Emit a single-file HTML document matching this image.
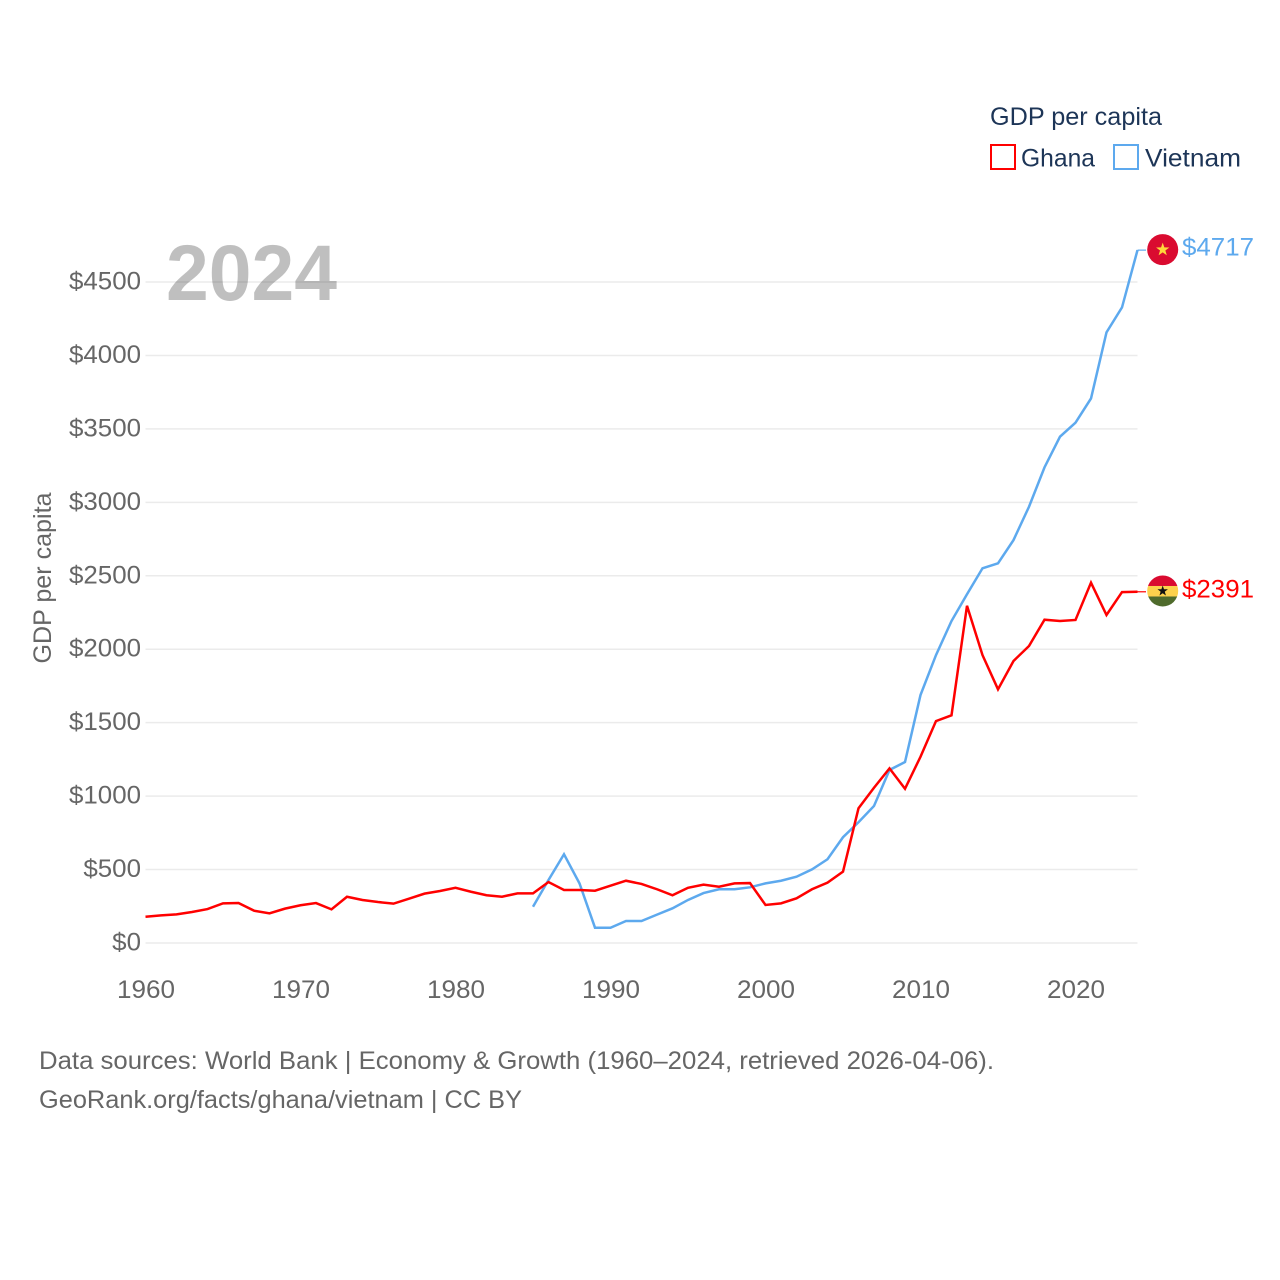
<!DOCTYPE html>
<html lang="en">
<head>
<meta charset="utf-8">
<title>GDP per capita: Ghana and Vietnam</title>
<style>
html,body{margin:0;padding:0;background:#fff;width:1280px;height:1280px;overflow:hidden}
svg{display:block}
text{font-family:"Liberation Sans",sans-serif}
</style>
</head>
<body>
<svg id="chart" width="1280" height="1280" viewBox="0 0 1280 1280" xmlns="http://www.w3.org/2000/svg">
  <g id="grid"></g>
  <g id="xticks"></g>
  <g id="yticks"></g>
  <text x="51" y="578" transform="rotate(-90 51 578)" text-anchor="middle" font-size="25" fill="#666" textLength="171" lengthAdjust="spacingAndGlyphs">GDP per capita</text>
  <g id="series"></g>
  <text x="166" y="300" font-size="79" font-weight="700" fill="#000" fill-opacity="0.25" textLength="171" lengthAdjust="spacingAndGlyphs">2024</text>

  <text x="990" y="125" font-size="25" fill="#1d3557" textLength="172" lengthAdjust="spacingAndGlyphs">GDP per capita</text>
  <g>
    <rect x="991" y="145" width="24" height="24" fill="#fff" stroke="#ff0000" stroke-width="2"></rect>
    <text x="1021" y="166.5" font-size="25" fill="#1d3557" textLength="74" lengthAdjust="spacingAndGlyphs">Ghana</text>
  </g>
  <g>
    <rect x="1114" y="145" width="24" height="24" fill="#fff" stroke="#5da9ee" stroke-width="2"></rect>
    <text x="1145" y="166.5" font-size="25" fill="#1d3557" textLength="96" lengthAdjust="spacingAndGlyphs">Vietnam</text>
  </g>

  <defs>
    <clipPath id="ghana-clip"><circle id="ghana-clip-circle" cx="1162.7" cy="591" r="15.5"></circle></clipPath>
  </defs>
  <g id="end-markers"></g>

  <text x="39" y="1069" font-size="25" fill="#666" textLength="955" lengthAdjust="spacingAndGlyphs">Data sources: World Bank | Economy &amp; Growth (1960–2024, retrieved 2026-04-06).</text>
  <text x="39" y="1108" font-size="25" fill="#666" textLength="483" lengthAdjust="spacingAndGlyphs">GeoRank.org/facts/ghana/vietnam | CC BY</text>
</svg>
<script>
const startYear = 1960;
const xTickYears = [1960, 1970, 1980, 1990, 2000, 2010, 2020];
const yTickValues = [0, 500, 1000, 1500, 2000, 2500, 3000, 3500, 4000, 4500];
const ghanaYears = [1960,1961,1962,1963,1964,1965,1966,1967,1968,1969,1970,1971,1972,1973,1974,1975,1976,1977,1978,1979,1980,1981,1982,1983,1984,1985,1986,1987,1988,1989,1990,1991,1992,1993,1994,1995,1996,1997,1998,1999,2000,2001,2002,2003,2004,2005,2006,2007,2008,2009,2010,2011,2012,2013,2014,2015,2016,2017,2018,2019,2020,2021,2022,2023,2024];
const ghanaValues = [179,188,195,211,231,270,272,220,202,234,257,272,229,315,293,279,268,302,336,354,376,349,325,315,338,338,415,361,361,356,390,424,402,366,325,376,397,383,406,408,259,270,304,366,411,486,917,1057,1189,1050,1268,1511,1550,2296,1960,1727,1920,2022,2201,2192,2199,2453,2233,2389,2391];
const vietnamYears = [1985,1986,1987,1988,1989,1990,1991,1992,1993,1994,1995,1996,1997,1998,1999,2000,2001,2002,2003,2004,2005,2006,2007,2008,2009,2010,2011,2012,2013,2014,2015,2016,2017,2018,2019,2020,2021,2022,2023,2024];
const vietnamValues = [247,429,604,406,104,104,150,150,193,236,293,340,366,366,379,406,424,451,501,570,720,822,933,1178,1232,1688,1960,2192,2374,2551,2585,2743,2970,3238,3447,3542,3707,4157,4327,4717];

const NS = 'http://www.w3.org/2000/svg';
const x = year => 145.5 + (year - startYear) * 15.5;
const y = value => 943 - value * 661 / 4500;
const xEnd = x(2024);

function make(tag, attrs, parent, txt) {
  const el = document.createElementNS(NS, tag);
  for (const k in attrs) el.setAttribute(k, attrs[k]);
  if (txt !== undefined) el.textContent = txt;
  parent.appendChild(el);
  return el;
}

const gridG = document.getElementById('grid');
const yG = document.getElementById('yticks');
yTickValues.forEach(v => {
  const line = make('line', {x1: x(startYear), x2: xEnd, y1: y(v), y2: y(v), stroke: '#ebebeb', 'stroke-width': 1.5}, gridG);
  
  
  const label = '$' + v;
  const t = make('text', {x: 141, y: y(v) + 7.5, 'text-anchor': 'end', 'font-size': 25, fill: '#666', textLength: label.length * 14.4, lengthAdjust: 'spacingAndGlyphs'}, yG, label);
  
  
});

const xG = document.getElementById('xticks');
xTickYears.forEach(yr => {
  const t = make('text', {x: x(yr) + 0.5, y: 998, 'text-anchor': 'middle', 'font-size': 25, fill: '#666', textLength: 58, lengthAdjust: 'spacingAndGlyphs'}, xG, String(yr));
  
  
});

function pathFrom(years, values) {
  return years.map((yr, i) => (i ? 'L' : 'M') + x(yr).toFixed(2) + ' ' + y(values[i]).toFixed(2)).join(' ');
}

const seriesG = document.getElementById('series');
const vietnamLine = make('path', {d: pathFrom(vietnamYears, vietnamValues), fill: 'none', stroke: '#5da9ee', 'stroke-width': 2.5, 'stroke-linejoin': 'miter'}, seriesG);


const ghanaLine = make('path', {d: pathFrom(ghanaYears, ghanaValues), fill: 'none', stroke: '#ff0000', 'stroke-width': 2.5, 'stroke-linejoin': 'miter'}, seriesG);



const lastG = ghanaValues[ghanaValues.length - 1];
const lastV = vietnamValues[vietnamValues.length - 1];
const yG2 = y(lastG);
const yV2 = y(lastV);
const mG = document.getElementById('end-markers');
const cx = 1162.7;

const connV = make('line', {x1: xEnd, x2: 1146, y1: yV2, y2: yV2, stroke: '#5da9ee', 'stroke-width': 1.2}, mG);


const connG = make('line', {x1: xEnd, x2: 1146, y1: yG2, y2: yG2, stroke: '#ff0000', 'stroke-width': 1.2}, mG);



function starPoints(cxs, cys, R) {
  const pts = [];
  for (let i = 0; i < 10; i++) {
    const r = i % 2 ? R * 0.4 : R;
    const a = -Math.PI / 2 + i * Math.PI / 5;
    pts.push((cxs + r * Math.cos(a)).toFixed(2) + ',' + (cys + r * Math.sin(a)).toFixed(2));
  }
  return pts.join(' ');
}

const flagV = make('g', {}, mG);


make('circle', {cx: cx, cy: yV2 - 0.5, r: 15.5, fill: '#da0b30'}, flagV);
make('polygon', {points: starPoints(cx, yV2 - 0.5, 7), fill: '#ffd83a'}, flagV);

const flagCy = yG2 - 0.8;
document.getElementById('ghana-clip-circle').setAttribute('cy', flagCy);
const flagG = make('g', {'clip-path': 'url(#ghana-clip)'}, mG);


make('rect', {x: cx - 16, y: flagCy - 16, width: 32, height: 11, fill: '#da0b30'}, flagG);
make('rect', {x: cx - 16, y: flagCy - 5, width: 32, height: 10.5, fill: '#fcd14d'}, flagG);
make('rect', {x: cx - 16, y: flagCy + 5.5, width: 32, height: 11, fill: '#4f6b2c'}, flagG);
make('polygon', {points: starPoints(cx, flagCy, 5.5), fill: '#111'}, flagG);

const valV = make('text', {x: 1182, y: yV2 + 5.5, 'font-size': 25, fill: '#5da9ee', textLength: 72, lengthAdjust: 'spacingAndGlyphs'}, mG, '$' + lastV);


const valG = make('text', {x: 1182, y: yG2 + 5.5, 'font-size': 25, fill: '#ff0000', textLength: 72, lengthAdjust: 'spacingAndGlyphs'}, mG, '$' + lastG);


</script>
</body>
</html>
